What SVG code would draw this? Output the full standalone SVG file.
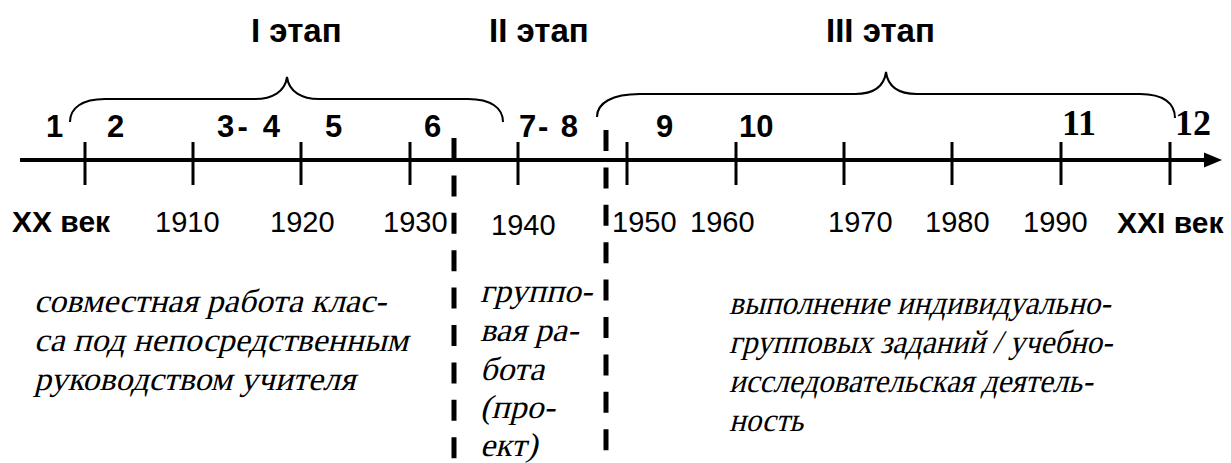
<svg xmlns="http://www.w3.org/2000/svg" width="1231" height="463" viewBox="0 0 1231 463">
<style>
.title{font-family:"Liberation Sans",Arial,sans-serif;font-weight:bold;font-size:33px;fill:#000}
.num{font-family:"Liberation Sans",Arial,sans-serif;font-weight:bold;font-size:31px;fill:#000}
.numS{font-family:"Liberation Serif","Times New Roman",serif;font-weight:bold;font-size:36px;fill:#000}
.yr{font-family:"Liberation Sans",Arial,sans-serif;font-size:29px;fill:#000}
.cent{font-family:"Liberation Sans",Arial,sans-serif;font-weight:bold;font-size:30px;fill:#000}
.desc{font-family:"Liberation Serif",serif;font-style:normal;font-size:33px;fill:#000}
.tick{stroke:#000;stroke-width:3}
.axis{stroke:#000;stroke-width:4}
.brace{fill:none;stroke:#000;stroke-width:2}
.dash{stroke:#000;stroke-width:5;stroke-dasharray:21 16.4}
</style>
<g id="connectors">
<line class="axis" x1="20" y1="160" x2="1210" y2="160"/>
<polygon points="1204,152.5 1222,160 1204,167.5" fill="#000"/>
<line class="tick" x1="85" y1="142" x2="85" y2="185"/>
<line class="tick" x1="193" y1="142" x2="193" y2="185"/>
<line class="tick" x1="301" y1="142" x2="301" y2="185"/>
<line class="tick" x1="410" y1="142" x2="410" y2="185"/>
<line class="tick" x1="518" y1="142" x2="518" y2="185"/>
<line class="tick" x1="627" y1="142" x2="627" y2="185"/>
<line class="tick" x1="736" y1="142" x2="736" y2="185"/>
<line class="tick" x1="844" y1="142" x2="844" y2="185"/>
<line class="tick" x1="952" y1="142" x2="952" y2="185"/>
<line class="tick" x1="1061" y1="142" x2="1061" y2="185"/>
<line class="tick" x1="1170" y1="142" x2="1170" y2="185"/>
<line class="dash" x1="454" y1="138" x2="454" y2="470"/>
<line class="dash" x1="606" y1="130" x2="606" y2="470"/>
<path class="brace" d="M70,122 C70,108 82,99 105,99 L255,99 C272,99 285,92 287,77 C289,92 302,99 319,99 L468,99 C491,99 503,108 503,122"/>
<path class="brace" d="M597,117 C597,103 612,94 640,94 L855,94 C874,94 884,87 886,72 C888,87 898,94 917,94 L1140,94 C1163,94 1175,103 1175,118"/>
</g>
<g id="titles">
<text class="title" x="251" y="42">I этап</text>
<text class="title" x="489" y="42">II этап</text>
<text class="title" x="826" y="42">III этап</text>
</g>
<g id="numbers">
<text class="num" x="46" y="137">1</text>
<text class="num" x="107" y="137">2</text>
<text class="num" x="217" y="137" textLength="63">3- 4</text>
<text class="num" x="325" y="137">5</text>
<text class="num" x="424" y="137">6</text>
<text class="num" x="519" y="137" textLength="59">7- 8</text>
<text class="num" x="656" y="137">9</text>
<text class="num" x="739" y="137">10</text>
<text class="numS" x="1062" y="135">11</text>
<text class="numS" x="1175" y="135">12</text>
</g>
<g id="years">
<text class="cent" x="12" y="232">XX век</text>
<text class="yr" x="155" y="232">1910</text>
<text class="yr" x="270" y="232">1920</text>
<text class="yr" x="383" y="232">1930</text>
<text class="yr" x="491" y="235">1940</text>
<text class="yr" x="612" y="232">1950</text>
<text class="yr" x="690" y="232">1960</text>
<text class="yr" x="828" y="232">1970</text>
<text class="yr" x="925" y="232">1980</text>
<text class="yr" x="1023" y="232">1990</text>
<text class="cent" x="1117" y="233">XXI век</text>
</g>
<g id="stage1-text">
<text class="desc" transform="translate(34 312) skewX(-14) scale(1.03 1)">совместная работа клас-</text>
<text class="desc" transform="translate(34 351) skewX(-14) scale(1.03 1)">са под непосредственным</text>
<text class="desc" transform="translate(34 390) skewX(-14) scale(1.03 1)">руководством учителя</text>
</g>
<g id="stage2-text">
<text class="desc" transform="translate(480 302) skewX(-14) scale(1.03 1)">группо-</text>
<text class="desc" transform="translate(480 341) skewX(-14) scale(1.03 1)">вая ра-</text>
<text class="desc" transform="translate(480 380) skewX(-14) scale(1.03 1)">бота</text>
<text class="desc" transform="translate(480 418) skewX(-14) scale(1.03 1)">(про-</text>
<text class="desc" transform="translate(480 456) skewX(-14) scale(1.03 1)">ект)</text>
</g>
<g id="stage3-text">
<text class="desc" transform="translate(729 314) skewX(-14) scale(0.94 1)">выполнение индивидуально-</text>
<text class="desc" transform="translate(729 353) skewX(-14) scale(0.94 1)">групповых заданий / учебно-</text>
<text class="desc" transform="translate(729 392) skewX(-14) scale(0.94 1)">исследовательская деятель-</text>
<text class="desc" transform="translate(729 431) skewX(-14) scale(0.94 1)">ность</text>
</g>
</svg>
